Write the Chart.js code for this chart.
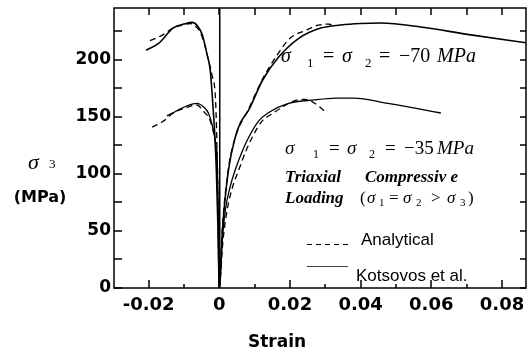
<!DOCTYPE html>
<html>
<head>
<meta charset="utf-8">
<script src="https://cdn.jsdelivr.net/npm/chart.js@4.4.1/dist/chart.umd.min.js"></script>
<style>
html,body{margin:0;padding:0;background:#fff;}
#c{display:block;}
</style>
</head>
<body>
<canvas id="c" width="528" height="353"></canvas>
<script>
// ---- data (strain, stress in MPa) ----
const strainK70 = [-0.0207,-0.017,-0.0131,-0.0100,-0.0077,-0.0062,-0.0048,-0.0034,-0.0026,-0.0018,-0.0012,-0.0008,-0.0004,0,0.0009,0.0026,0.0045,0.0060,0.0083,0.0122,0.0168,0.0225,0.0287,0.0343,0.0400,0.0457,0.0570,0.0712,0.0870];
const stressK70 = [208.5,215,228,231.5,233,230,222,204,192,160,130,100,55,0,51,103.5,132,145,156,182,202.6,219,228,230.7,232,232.4,229,222,215];

const strainA70 = [-0.0196,-0.016,-0.0131,-0.0100,-0.0082,-0.0065,-0.0054,-0.0040,-0.0031,-0.0020,-0.0011,-0.0007,-0.0004,0,0.0008,0.0025,0.0045,0.0083,0.0122,0.0165,0.0200,0.0245,0.0280,0.0310,0.0325];
const stressA70 = [217,222,228,231,232,229,224.5,212,200,186,167,130,80,0,50,103,132,157,183,205,219,226,230.5,231.5,230.5];

const strainK35 = [-0.0148,-0.012,-0.009,-0.0063,-0.0045,-0.0031,-0.0017,-0.0010,-0.0006,-0.0003,0,0.0008,0.0017,0.0030,0.0045,0.0065,0.0083,0.0110,0.0140,0.0196,0.0270,0.0330,0.0380,0.0477,0.0550,0.0627];
const stressK35 = [151,155.5,160,162,159,153.5,138.6,125,106,60,0,40,68,88,103.5,120,132,146,154,162,165,166.5,166.6,162,158,153.5];

const strainA35 = [-0.019,-0.016,-0.013,-0.0095,-0.0063,-0.0045,-0.0026,-0.0012,-0.0006,-0.0003,0,0.0010,0.0022,0.0037,0.0055,0.0075,0.0093,0.0120,0.0145,0.0175,0.0210,0.0245,0.0270,0.0295,0.0305];
const stressA35 = [141,146,153.5,158,160.5,155,147,130,115,70,0,40,68,88,103.5,120,132,146,152,158,164,165.5,162,156,153.5];

const xTickValues = [-0.02, 0, 0.02, 0.04, 0.06, 0.08];
const xTickLabels = ['-0.02', '0', '0.02', '0.04', '0.06', '0.08'];
const xMinorValues = [-0.01, 0.01, 0.03, 0.05, 0.07];
const yTickValues = [0, 50, 100, 150, 200];
const yTickLabels = ['0', '50', '100', '150', '200'];
const yMinorValues = [25, 75, 125, 175, 225];

const seriesNames = ['Kotsovos et al.', 'Analytical'];

function pts(xs, ys) { return xs.map((v, i) => ({x: v, y: ys[i]})); }

const SERIF = '"Liberation Serif", "Times New Roman", serif';
const SANS = '"Liberation Sans", Arial, sans-serif';
const BOLD = '"DejaVu Sans", sans-serif';

function txt(ctx, s, x, y, font) { ctx.font = font; ctx.fillText(s, x, y); }
function seg(ctx, x1, y1, x2, y2) { ctx.beginPath(); ctx.moveTo(x1, y1); ctx.lineTo(x2, y2); ctx.stroke(); }

const decor = {
  id: 'decor',
  afterDraw(chart) {
    const ctx = chart.ctx;
    const a = chart.chartArea;
    const xs = chart.scales.x, ys = chart.scales.y;
    ctx.save();
    ctx.setLineDash([]);
    ctx.globalAlpha = 1;
    ctx.strokeStyle = '#000';
    ctx.lineWidth = 1.5;
    ctx.strokeRect(a.left, a.top, a.right - a.left, a.bottom - a.top);
    for (const v of xTickValues) {
      const p = Math.round(xs.getPixelForValue(v));
      seg(ctx, p, a.bottom, p, a.bottom - 8);
      seg(ctx, p, a.top, p, a.top + 7);
    }
    for (const v of xMinorValues) {
      const p = Math.round(xs.getPixelForValue(v));
      seg(ctx, p, a.bottom, p, a.bottom - 4);
      seg(ctx, p, a.top, p, a.top + 7);
    }
    for (const v of yTickValues.concat(yMinorValues)) {
      const p = Math.round(ys.getPixelForValue(v));
      seg(ctx, a.left, p, a.left + 8, p);
      seg(ctx, a.right, p, a.right - 6, p);
    }

    ctx.fillStyle = '#000';
    ctx.textAlign = 'left';
    ctx.textBaseline = 'alphabetic';
    // -70 MPa label
    const f20 = '20px ' + SERIF, i20 = 'italic 20px ' + SERIF, s13 = '13px ' + SERIF;
    txt(ctx, 'σ', 281, 62, i20); txt(ctx, '1', 307, 67, s13);
    txt(ctx, '=', 323, 62, f20);
    txt(ctx, 'σ', 342, 62, i20); txt(ctx, '2', 365, 67, s13);
    txt(ctx, '=', 379, 62, f20);
    txt(ctx, '−70', 399, 62, f20);
    txt(ctx, 'MPa', 437, 62, i20);
    // -35 MPa label
    const f18 = '19px ' + SERIF, i18 = 'italic 19px ' + SERIF, s12 = '12px ' + SERIF;
    txt(ctx, 'σ', 285, 154, i18); txt(ctx, '1', 313, 158, s12);
    txt(ctx, '=', 329, 154, f18);
    txt(ctx, 'σ', 347, 154, i18); txt(ctx, '2', 369, 158, s12);
    txt(ctx, '=', 385, 154, f18);
    txt(ctx, '−35', 404, 154, f18);
    txt(ctx, 'MPa', 437, 154, i18);
    // loading description
    const bi = 'italic bold 17px ' + SERIF;
    txt(ctx, 'Triaxial', 285, 182, bi);
    txt(ctx, 'Compressiv e', 365, 182, bi);
    txt(ctx, 'Loading', 285, 203, bi);
    const f17 = '17px ' + SERIF, i17 = 'italic 17px ' + SERIF, s11 = '11px ' + SERIF;
    txt(ctx, '(', 360, 203, f17);
    txt(ctx, 'σ', 367, 203, i17); txt(ctx, '1', 379, 206, s11);
    txt(ctx, '=', 389, 203, f17);
    txt(ctx, 'σ', 403, 203, i17); txt(ctx, '2', 416, 206, s11);
    txt(ctx, '>', 431, 203, f17);
    txt(ctx, 'σ', 447, 203, i17); txt(ctx, '3', 460, 206, s11);
    txt(ctx, ')', 468, 203, f17);

    // legend
    ctx.lineWidth = 1.2;
    ctx.setLineDash([5, 4]);
    seg(ctx, 307, 244.5, 348, 244.5);
    ctx.setLineDash([]);
    ctx.lineWidth = 1;
    ctx.strokeStyle = '#444';
    seg(ctx, 307, 266.5, 348, 266.5);
    txt(ctx, seriesNames[1], 361, 245, '17px ' + SANS);
    txt(ctx, seriesNames[0], 356, 281, '17px ' + SANS);

    // axis titles
    txt(ctx, 'σ', 28, 169, 'italic 22px ' + SERIF);
    txt(ctx, '3', 49, 168, '13px ' + SERIF);
    ctx.textAlign = 'center';
    txt(ctx, '(MPa)', 40, 202, 'bold 16px ' + BOLD);
    txt(ctx, 'Strain', 277, 347, 'bold 17px ' + BOLD);
    ctx.restore();
  }
};

const common = {showLine: true, pointRadius: 0, fill: false, cubicInterpolationMode: 'monotone', borderColor: '#000'};

new Chart(document.getElementById('c'), {
  type: 'scatter',
  data: {
    datasets: [
      Object.assign({label: seriesNames[0] + ' (-70)', data: pts(strainK70, stressK70), borderWidth: 1.6}, common),
      Object.assign({label: seriesNames[1] + ' (-70)', data: pts(strainA70, stressA70), borderWidth: 1.3, borderDash: [6, 4]}, common),
      Object.assign({label: seriesNames[0] + ' (-35)', data: pts(strainK35, stressK35), borderWidth: 1.3}, common),
      Object.assign({label: seriesNames[1] + ' (-35)', data: pts(strainA35, stressA35), borderWidth: 1.3, borderDash: [6, 4]}, common)
    ]
  },
  options: {
    responsive: false,
    animation: false,
    layout: {padding: {top: 8, right: 2, left: 0, bottom: 0}},
    plugins: {legend: {display: false}, tooltip: {enabled: false}},
    scales: {
      x: {
        type: 'linear', min: -0.0298, max: 0.0868,
        afterBuildTicks: s => { s.ticks = xTickValues.map(v => ({value: v})); },
        afterFit: s => { s.height = 65; s.paddingLeft = 0; s.paddingRight = 0; },
        ticks: {
          color: '#000', padding: 7, maxRotation: 0, autoSkip: false,
          font: {family: 'DejaVu Sans', weight: 'bold', size: 18},
          callback: (v, i) => xTickLabels[i]
        },
        grid: {
          drawTicks: false,
          lineWidth: 1.5,
          color: c => (c.tick && c.tick.value === 0) ? '#000' : 'rgba(0,0,0,0)'
        },
        border: {display: false}
      },
      y: {
        type: 'linear', min: 0, max: 245.6,
        afterBuildTicks: s => { s.ticks = yTickValues.map(v => ({value: v})); },
        afterFit: s => { s.width = 114; s.paddingTop = 0; s.paddingBottom = 0; },
        ticks: {
          color: '#000', padding: 3, autoSkip: false,
          font: {family: 'DejaVu Sans', weight: 'bold', size: 17},
          callback: (v, i) => yTickLabels[i]
        },
        grid: {display: false, drawTicks: false},
        border: {display: false}
      }
    }
  },
  plugins: [decor]
});
</script>
</body>
</html>
